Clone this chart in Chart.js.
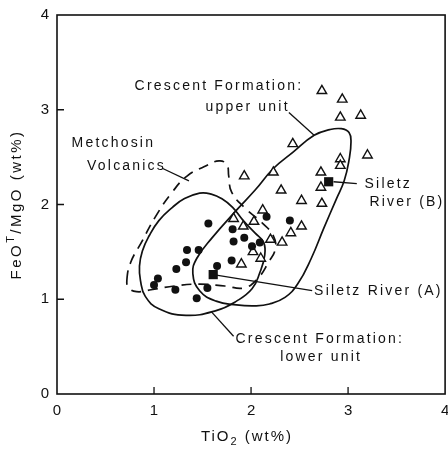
<!DOCTYPE html>
<html>
<head>
<meta charset="utf-8">
<script src="https://cdn.jsdelivr.net/npm/chart.js@4.4.1/dist/chart.umd.min.js"></script>
<style>
  html, body { margin: 0; padding: 0; background: #fff; overflow: hidden; }
  #plot { display: block; }
</style>
</head>
<body>
<canvas id="plot" width="452" height="455"></canvas>
<script>
// TiO2 (x) against FeOT/MgO (y), both in wt%
const xTicks = [0, 1, 2, 3, 4];
const yTicks = [0, 1, 2, 3, 4];

// Crescent Formation, lower unit (filled circles)
const circX = [1.04, 1.00, 1.22, 1.23, 1.33, 1.34, 1.46, 1.44, 1.55, 1.56, 1.65, 1.80, 1.81, 1.93, 1.82, 2.01, 2.09, 2.16, 2.40];
const circY = [1.22, 1.15, 1.10, 1.32, 1.39, 1.52, 1.52, 1.01, 1.12, 1.80, 1.35, 1.41, 1.74, 1.65, 1.61, 1.56, 1.60, 1.87, 1.83];

// Crescent Formation, upper unit (open triangles)
const triX = [2.73, 2.94, 2.92, 3.13, 2.43, 3.20, 2.92, 2.92, 2.23, 1.93, 2.72, 2.72, 2.31, 2.52, 2.73, 2.12, 2.52, 2.41, 2.32, 2.20, 1.82, 1.92, 2.03, 2.02, 2.10, 1.90];
const triY = [3.20, 3.11, 2.92, 2.94, 2.64, 2.52, 2.48, 2.41, 2.34, 2.30, 2.34, 2.18, 2.15, 2.04, 2.01, 1.94, 1.77, 1.70, 1.60, 1.63, 1.85, 1.77, 1.82, 1.50, 1.43, 1.37];

// Siletz River (A) and (B) (filled squares)
const sqX = [1.61, 2.80];
const sqY = [1.26, 2.24];

// field outlines
const upperX = [1.40, 1.44, 1.60, 1.85, 2.04, 2.23, 2.43, 2.65, 2.81, 2.93, 3.01, 3.03, 3.01, 2.96, 2.88, 2.75, 2.62, 2.48, 2.35, 2.19, 2.04, 1.85, 1.64, 1.47];
const upperY = [1.27, 1.43, 1.65, 1.94, 2.15, 2.38, 2.55, 2.73, 2.79, 2.80, 2.76, 2.66, 2.47, 2.25, 2.06, 1.75, 1.43, 1.16, 1.02, 0.95, 0.93, 0.94, 0.98, 1.09];
const lowerX = [1.47, 1.31, 1.19, 1.05, 0.95, 0.88, 0.85, 0.86, 0.91, 1.05, 1.33, 1.64, 1.85, 2.01, 2.09, 2.14, 2.13, 2.04, 1.92, 1.81, 1.70, 1.59];
const lowerY = [2.12, 2.06, 1.97, 1.83, 1.67, 1.51, 1.35, 1.20, 1.03, 0.90, 0.83, 0.88, 0.98, 1.11, 1.28, 1.46, 1.60, 1.70, 1.83, 1.97, 2.06, 2.11];
const metchX = [0.72, 0.76, 0.87, 1.02, 1.18, 1.34, 1.52, 1.67, 1.75, 1.77, 1.80, 1.94, 2.11, 2.23, 2.25, 2.18, 2.07, 1.93, 1.73, 1.47, 1.21, 0.97, 0.82, 0.74];
const metchY = [1.20, 1.39, 1.60, 1.88, 2.12, 2.30, 2.40, 2.46, 2.42, 2.30, 2.13, 1.96, 1.81, 1.67, 1.53, 1.39, 1.22, 1.12, 1.14, 1.16, 1.14, 1.10, 1.08, 1.12];

// leader lines, [x0, x1] / [y0, y1]
const leadUpperX = [2.39, 2.65], leadUpperY = [2.97, 2.73];
const leadMetchX = [1.09, 1.36], leadMetchY = [2.38, 2.25];
const leadBX = [2.85, 3.09], leadBY = [2.24, 2.22];
const leadAX = [1.61, 2.63], leadAY = [1.26, 1.09];
const leadLowerX = [1.59, 1.82], leadLowerY = [0.87, 0.61];

// annotation text, anchored at left edge / vertical middle
const noteText = ['Crescent Formation:', 'upper unit', 'Metchosin', 'Volcanics', 'Siletz', 'River (B)', 'Siletz River (A)', 'Crescent Formation:', 'lower unit'];
const noteX = [0.80, 1.53, 0.15, 0.31, 3.17, 3.22, 2.65, 1.84, 2.30];
const noteY = [3.25, 3.03, 2.65, 2.40, 2.22, 2.02, 1.09, 0.58, 0.39];

const pts = (xs, ys) => xs.map((x, i) => ({ x: x, y: ys[i] }));

// closed curve: wrap the ends so the spline is smooth at the seam, hide the extra pieces
function loop(xs, ys) {
  const n = xs.length;
  const idx = [n - 1].concat(xs.map((_, i) => i), [0, 1]);
  return idx.map(i => ({ x: xs[i], y: ys[i] }));
}
function loopSet(xs, ys, dash) {
  const n = xs.length;
  return {
    data: loop(xs, ys),
    showLine: true,
    borderColor: '#111',
    borderWidth: 1.7,
    borderDash: dash,
    pointRadius: 0,
    tension: 0.45,
    order: 2,
    segment: {
      borderColor: c => (c.p0DataIndex === 0 || c.p0DataIndex === n + 1) ? 'rgba(0,0,0,0)' : undefined
    }
  };
}
function leadSet(xs, ys) {
  return { data: pts(xs, ys), showLine: true, borderColor: '#111', borderWidth: 1.3, pointRadius: 0, order: 2 };
}

const decor = {
  id: 'decor',
  afterDraw(chart) {
    const { ctx, chartArea: a, scales: { x, y } } = chart;
    ctx.save();
    ctx.strokeStyle = '#111';
    ctx.lineWidth = 1.6;
    ctx.strokeRect(a.left, a.top, a.right - a.left, a.bottom - a.top);
    ctx.lineWidth = 1.3;
    ctx.beginPath();
    xTicks.slice(1, -1).forEach(v => {
      const px = x.getPixelForValue(v);
      ctx.moveTo(px, a.bottom); ctx.lineTo(px, a.bottom - 7);
    });
    yTicks.slice(1, -1).forEach(v => {
      const py = y.getPixelForValue(v);
      ctx.moveTo(a.left, py); ctx.lineTo(a.left + 7, py);
    });
    ctx.stroke();

    ctx.fillStyle = '#111';
    ctx.textBaseline = 'middle';
    ctx.textAlign = 'left';
    ctx.font = '14px "Liberation Sans", Arial, sans-serif';
    ctx.letterSpacing = '2.2px';
    noteText.forEach((t, i) => {
      ctx.fillText(t, x.getPixelForValue(noteX[i]), y.getPixelForValue(noteY[i]));
    });

    // x title: TiO2 (wt%)
    const big = '15px "Liberation Sans", Arial, sans-serif';
    const small = '11px "Liberation Sans", Arial, sans-serif';
    ctx.letterSpacing = '2px';
    ctx.font = big;
    const w1 = ctx.measureText('TiO').width;
    const w3 = ctx.measureText(' (wt%)').width;
    ctx.font = small;
    const w2 = ctx.measureText('2').width;
    let sx = 247 - (w1 + w2 + w3) / 2;
    const ty = 437;
    ctx.font = big; ctx.fillText('TiO', sx, ty);
    ctx.font = small; ctx.fillText('2', sx + w1, ty + 5);
    ctx.font = big; ctx.fillText(' (wt%)', sx + w1 + w2, ty);

    // y title: FeOT/MgO (wt%)
    ctx.translate(17, (a.top + a.bottom) / 2);
    ctx.rotate(-Math.PI / 2);
    ctx.letterSpacing = '2.5px';
    ctx.font = big;
    const v1 = ctx.measureText('FeO').width;
    const v3 = ctx.measureText('/MgO (wt%)').width;
    ctx.font = small;
    const v2 = ctx.measureText('T').width;
    sx = -(v1 + v2 + v3) / 2;
    ctx.font = big; ctx.fillText('FeO', sx, 0);
    ctx.font = small; ctx.fillText('T', sx + v1, -6);
    ctx.font = big; ctx.fillText('/MgO (wt%)', sx + v1 + v2, 0);
    ctx.restore();
  }
};

new Chart(document.getElementById('plot'), {
  type: 'scatter',
  data: {
    datasets: [
      { data: pts(circX, circY), pointStyle: 'circle', pointRadius: 4, backgroundColor: '#111', borderColor: '#111', borderWidth: 0, order: 0 },
      { data: pts(triX, triY), pointStyle: 'triangle', pointRadius: 5.5, backgroundColor: '#fff', borderColor: '#111', borderWidth: 1.4, order: 0 },
      { data: pts(sqX, sqY), pointStyle: 'rect', pointRadius: 6.5, backgroundColor: '#111', borderColor: '#111', borderWidth: 0, order: 0 },
      loopSet(upperX, upperY, []),
      loopSet(lowerX, lowerY, []),
      loopSet(metchX, metchY, [10, 7]),
      leadSet(leadUpperX, leadUpperY),
      leadSet(leadMetchX, leadMetchY),
      leadSet(leadBX, leadBY),
      leadSet(leadAX, leadAY),
      leadSet(leadLowerX, leadLowerY)
    ]
  },
  options: {
    responsive: false,
    animation: false,
    events: [],
    layout: { padding: { top: 15, right: 3, left: 0, bottom: 0 } },
    plugins: { legend: { display: false }, tooltip: { enabled: false } },
    scales: {
      x: {
        type: 'linear', min: 0, max: 4,
        afterFit: s => { s.height = 61; s.paddingLeft = 0; s.paddingRight = 0; },
        afterBuildTicks: s => { s.ticks = xTicks.map(v => ({ value: v })); },
        grid: { display: false, drawTicks: false },
        border: { display: false },
        ticks: { padding: 8, color: '#111', font: { size: 15, family: '"Liberation Sans", Arial, sans-serif' } }
      },
      y: {
        type: 'linear', min: 0, max: 4,
        afterFit: s => { s.width = 57; s.paddingTop = 0; s.paddingBottom = 0; },
        afterBuildTicks: s => { s.ticks = yTicks.map(v => ({ value: v })); },
        grid: { display: false, drawTicks: false },
        border: { display: false },
        ticks: { padding: 8, color: '#111', font: { size: 15, family: '"Liberation Sans", Arial, sans-serif' } }
      }
    }
  },
  plugins: [decor]
});
</script>
</body>
</html>
